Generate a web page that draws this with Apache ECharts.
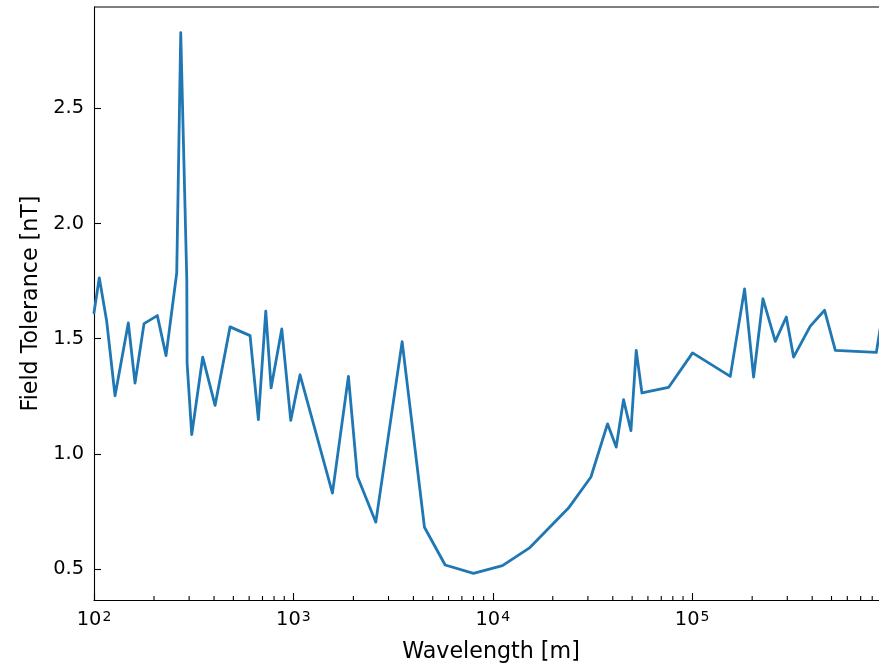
<!DOCTYPE html>
<html>
<head>
<meta charset="utf-8">
<script src="https://cdn.jsdelivr.net/npm/echarts@6/dist/echarts.min.js"></script>
<style>
html,body{margin:0;padding:0;background:#fff;}
#c{width:879px;height:665px;}
</style>
</head>
<body>
<div id="c"></div>
<script>
// Wavelength [m]
const wavelength = [100, 106.3, 115.8, 127.5, 148.6, 160.6, 178.2, 207.8, 229.8, 260, 272.3, 292, 293, 309.2, 351, 404.7, 481.3, 606.4, 667.5, 727, 773, 874.6, 970, 1080, 1570, 1888, 2095, 2591, 3511, 4543, 5771, 8003, 11185, 15226, 24177, 31066, 37628, 41610, 45270, 49320, 52420, 55990, 76130, 100500, 155300, 183200, 203300, 226600, 261200, 296600, 322700, 391300, 461600, 522600, 838800, 960000];
// Field Tolerance [nT]
const tolerance = [1.612, 1.764, 1.575, 1.252, 1.568, 1.307, 1.565, 1.600, 1.426, 1.786, 2.829, 1.756, 1.394, 1.083, 1.420, 1.210, 1.551, 1.513, 1.148, 1.619, 1.286, 1.542, 1.145, 1.343, 0.829, 1.336, 0.901, 0.703, 1.487, 0.681, 0.517, 0.481, 0.514, 0.590, 0.768, 0.899, 1.130, 1.029, 1.235, 1.100, 1.449, 1.264, 1.288, 1.438, 1.336, 1.716, 1.333, 1.673, 1.488, 1.594, 1.420, 1.554, 1.623, 1.449, 1.440, 1.75];
const yTicks = [0.5, 1.0, 1.5, 2.0, 2.5];
const xMinorTicks = [200,300,400,500,600,700,800,900,2000,3000,4000,5000,6000,7000,8000,9000,20000,30000,40000,50000,60000,70000,80000,90000,200000,300000,400000,500000,600000,700000,800000,900000];

const FONT = 'DejaVu Sans';
const chart = echarts.init(document.getElementById('c'), null, {renderer: 'canvas'});
chart.setOption({
  animation: false,
  backgroundColor: '#ffffff',
  grid: {left: 94, top: 7, bottom: 65, right: -9, containLabel: false, outerBoundsMode: 'none'},
  xAxis: {
    type: 'log', logBase: 10, min: 100, max: 960000,
    name: 'Wavelength [m]', nameLocation: 'middle', nameGap: 41,
    nameTextStyle: {fontFamily: FONT, fontSize: 22.2, color: '#000'},
    axisLine: {show: true, onZero: false, lineStyle: {color: '#000', width: 1.1}},
    axisTick: {show: true, inside: true, length: 7, lineStyle: {color: '#000', width: 1.1}},
    splitLine: {show: false},
    axisLabel: {
      margin: 9, showMaxLabel: false,
      formatter: function (v) {
        const e = Math.round(Math.log10(v));
        return '{b|10}{s|' + e + '}';
      },
      rich: {
        b: {fontFamily: FONT, fontSize: 19.4, color: '#000', lineHeight: 20, verticalAlign: 'bottom'},
        s: {fontFamily: FONT, fontSize: 14, color: '#000', lineHeight: 14, verticalAlign: 'top', padding: [1, 0, 10, 1]}
      }
    }
  },
  yAxis: {
    type: 'value', min: 0.365, max: 2.94,
    name: 'Field Tolerance [nT]', nameLocation: 'middle', nameGap: 52,
    nameTextStyle: {fontFamily: FONT, fontSize: 22.2, color: '#000'},
    axisLine: {show: true, onZero: false, lineStyle: {color: '#000', width: 1.1}},
    axisTick: {show: true, inside: true, length: 7, customValues: yTicks, lineStyle: {color: '#000', width: 1.1}},
    splitLine: {show: false},
    axisLabel: {
      margin: 10, customValues: yTicks,
      fontFamily: FONT, fontSize: 19.4, color: '#000',
      formatter: function (v) { return v.toFixed(1); }
    }
  },
  series: [
    {
      type: 'line',
      data: wavelength.map((w, i) => [w, tolerance[i]]),
      showSymbol: false, symbol: 'none',
      lineStyle: {color: '#1f77b4', width: 2.8, join: 'round', cap: 'round'},
      clip: true, z: 3
    },
    {
      type: 'custom',
      data: xMinorTicks.map(v => [v, 1]),
      clip: true, silent: true, z: 4,
      renderItem: function (params, api) {
        const x = api.coord([api.value(0), 1])[0];
        const bottom = params.coordSys.y + params.coordSys.height;
        return {type: 'line', shape: {x1: x, y1: bottom, x2: x, y2: bottom - 4},
                style: {stroke: '#000', lineWidth: 1.1}};
      }
    }
  ]
});
// top spine
const cs = chart.getModel().getComponent('grid').coordinateSystem.getRect();
chart.setOption({graphic: [{type: 'line', shape: {x1: cs.x, y1: cs.y, x2: cs.x + cs.width, y2: cs.y}, style: {stroke: '#000', lineWidth: 1.1}, z: 10}]});
</script>
</body>
</html>
